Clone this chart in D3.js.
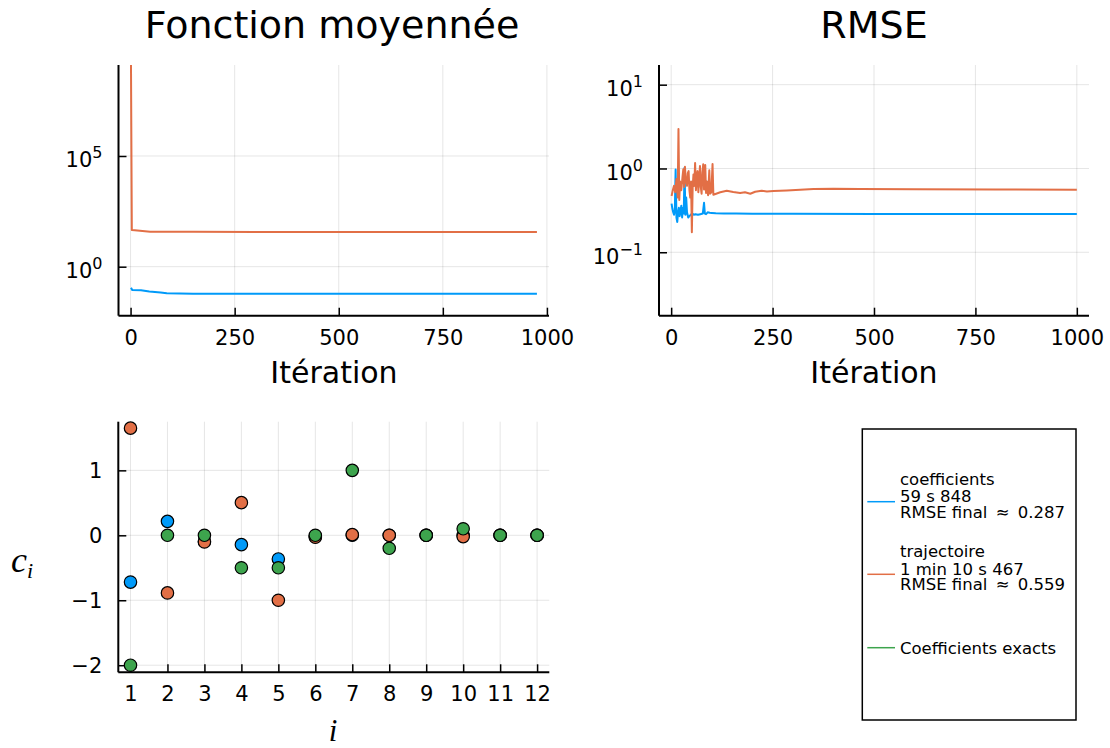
<!DOCTYPE html>
<html>
<head>
<meta charset="utf-8">
<script src="https://cdn.jsdelivr.net/npm/d3@7"></script>
<style>
  body { margin: 0; background: #fff; }
  svg { display: block; font-family: "DejaVu Sans", sans-serif; }
</style>
</head>
<body>
<svg id="fig" width="1110" height="748"></svg>
<script>
// ---- Fonction moyennée (log scale), per iteration ----
const meanIterCoef = [1, 4, 25, 45, 72, 87, 150, 400, 700, 976];
const meanValCoef  = [0.112, 0.088, 0.086, 0.076, 0.068, 0.063, 0.060, 0.060, 0.060, 0.060];
const meanIterTraj = [1, 3, 10, 47, 150, 400, 700, 976];
const meanValTraj  = [1.3e9, 45.5, 44, 38, 37.5, 37.2, 37.0, 37.0];

// ---- RMSE (log scale), per iteration ----
const rmseIterCoef = [1, 3, 5, 7, 9, 11, 13, 15, 17, 19, 21, 23, 25, 27, 29, 31, 33, 35, 37, 39,
                      42, 45, 48, 52, 56, 60, 66, 72, 78, 81, 83, 86, 90, 95, 100, 110, 130, 160,
                      200, 300, 500, 700, 1000];
const rmseValCoef  = [0.38, 0.33, 0.30, 0.28, 0.31, 0.97, 0.26, 0.23, 0.30, 0.34, 0.27, 0.31, 0.36,
                      0.26, 0.34, 0.29, 1.02, 0.28, 0.45, 0.30, 0.26, 0.27, 0.28, 0.29, 0.28, 0.285,
                      0.28, 0.285, 0.29, 0.39, 0.29, 0.285, 0.30, 0.296, 0.295, 0.293, 0.291, 0.29,
                      0.289, 0.288, 0.287, 0.287, 0.287];
const rmseIterTraj = [1, 4, 7, 10, 13, 16, 18, 20, 22, 25, 28, 30, 32, 34, 36, 39, 41, 43, 45, 47,
                      49, 51, 53, 55, 57, 59, 61, 63, 65, 67, 69, 71, 73, 75, 77, 79, 81, 83, 84,
                      86, 88, 91, 94, 96, 99, 102, 104, 121, 137, 153, 170, 182, 195, 207, 223,
                      236, 252, 285, 318, 351, 400, 466, 600, 800, 1000];
const rmseValTraj  = [0.47, 0.55, 0.62, 0.52, 0.75, 0.45, 2.96, 0.42, 0.70, 0.55, 0.80, 0.98, 0.60,
                      1.05, 0.72, 0.62, 0.88, 0.93, 0.55, 0.45, 0.70, 0.173, 0.60, 0.85, 0.62, 1.16,
                      0.55, 0.80, 0.93, 0.52, 0.75, 1.07, 0.60, 0.50, 0.90, 1.12, 0.56, 0.80, 1.10,
                      0.51, 0.70, 0.48, 0.95, 0.50, 0.52, 1.13, 0.486, 0.52, 0.543, 0.524, 0.509,
                      0.52, 0.50, 0.528, 0.543, 0.532, 0.538, 0.547, 0.557, 0.568, 0.573, 0.568,
                      0.564, 0.561, 0.559];

// ---- Coefficients c_i ----
const coefIndex = [1, 2, 3, 4, 5, 6, 7, 8, 9, 10, 11, 12];
const coefCoef  = [-0.72, 0.215, -0.09, -0.144, -0.364, -0.02, 0.0, 0.0, 0.0, 0.0, 0.0, 0.0];
const coefTraj  = [1.65, -0.887, -0.103, 0.503, -1.0, -0.03, 0.01, 0.0, 0.0, -0.02, 0.0, 0.0];
const coefExact = [-2, 0, 0, -0.5, -0.5, 0, 1, -0.2, 0, 0.1, 0, 0];

// ---- ticks and labels ----
const iterTicks = [0, 250, 500, 750, 1000];
const meanTicks = [1, 1e5];
const rmseTicks = [0.1, 1, 10];
const coefYTicks = [-2, -1, 0, 1];
const titles = ["Fonction moyennée", "RMSE"];
const xLabel = "Itération";
const legendEntries = [
  { lines: ["coefficients", "59 s 848", "RMSE final\u2002\u2248\u20020.287"], color: "#009af9" },
  { lines: ["trajectoire", "1 min 10 s 467", "RMSE final\u2002\u2248\u20020.559"], color: "#e26f46" },
  { lines: ["Coefficients exacts"], color: "#3da44d" }
];

const BLUE = "#009af9", ORANGE = "#e26f46", GREEN = "#3da44d";
const SERIF = "'Liberation Serif', 'DejaVu Serif', serif";
const svg = d3.select("#fig");

let clipId = 0;
function frame(xs, ys, xt, yt, logY) {
  const g = svg.append("g");
  const [x0, x1] = xs.range();
  const [yb, yt0] = ys.range();
  // grid
  g.append("g").selectAll("line").data(xt).join("line")
    .attr("x1", d => xs(d)).attr("x2", d => xs(d)).attr("y1", yt0).attr("y2", yb)
    .attr("stroke", "#000").attr("stroke-opacity", 0.1).attr("stroke-width", 1);
  g.append("g").selectAll("line").data(yt).join("line")
    .attr("y1", d => ys(d)).attr("y2", d => ys(d)).attr("x1", x0).attr("x2", x1)
    .attr("stroke", "#000").attr("stroke-opacity", 0.1).attr("stroke-width", 1);

  const id = "clip" + (clipId++);
  svg.append("clipPath").attr("id", id).append("rect")
    .attr("x", x0).attr("y", yt0).attr("width", x1 - x0).attr("height", yb - yt0);
  const marks = svg.append("g").attr("clip-path", `url(#${id})`);

  const axes = () => {
    const ax = svg.append("g").attr("transform", `translate(0,${yb})`)
      .call(d3.axisBottom(xs).tickValues(xt).tickFormat(d3.format("d"))
        .tickSize(-8).tickSizeOuter(0).tickPadding(14));
    const ay = svg.append("g").attr("transform", `translate(${x0},0)`)
      .call(d3.axisLeft(ys).tickValues(yt).tickSize(-8).tickSizeOuter(0).tickPadding(16));
    [ax, ay].forEach(a => {
      a.attr("font-family", null).attr("font-size", null);
      a.select(".domain").attr("stroke", "#000").attr("stroke-width", 2);
      a.selectAll(".tick line").attr("stroke", "#000").attr("stroke-width", 1.5);
      a.selectAll(".tick text").attr("fill", "#000").attr("font-size", 21);
    });
    ax.select(".domain").attr("d", `M${x0},0H${x1}`);
    ay.select(".domain").attr("d", `M0,${yb}V${yt0}`);
    if (logY) {
      ay.selectAll(".tick text").each(function (d) {
        const t = d3.select(this);
        const e = Math.round(Math.log10(d));
        t.text("10").attr("dy", 11);
        t.append("tspan").attr("dy", -9).attr("font-size", 16)
          .text(e < 0 ? "\u2212" + (-e) : String(e));
      });
    } else {
      ay.selectAll(".tick text").attr("dy", 7.6)
        .text(d => d < 0 ? "\u2212" + (-d) : String(d));
    }
  };
  return { marks, axes };
}

function drawLine(marks, xs, ys, xsData, ysData, color) {
  marks.append("path")
    .datum(d3.zip(xsData, ysData))
    .attr("fill", "none").attr("stroke", color).attr("stroke-width", 2)
    .attr("stroke-linejoin", "round")
    .attr("d", d3.line().x(d => xs(d[0])).y(d => ys(d[1])));
}

// ---- Panel 1: Fonction moyennée ----
{
  const xs = d3.scaleLinear().domain([-29, 1005]).range([118.5, 549]);
  const ys = d3.scaleLog().domain([Math.pow(10, -2.213), Math.pow(10, 9.11)]).range([315.7, 65]);
  const f = frame(xs, ys, iterTicks, meanTicks, true);
  drawLine(f.marks, xs, ys, meanIterCoef, meanValCoef, BLUE);
  drawLine(f.marks, xs, ys, meanIterTraj, meanValTraj, ORANGE);
  f.axes();
  svg.append("text").attr("x", 332).attr("y", 38).attr("text-anchor", "middle")
    .attr("font-size", 38).text(titles[0]);
  svg.append("text").attr("x", 334).attr("y", 383).attr("text-anchor", "middle")
    .attr("font-size", 30).text(xLabel);
}

// ---- Panel 2: RMSE ----
{
  const xs = d3.scaleLinear().domain([-30, 1030]).range([659, 1089]);
  const ys = d3.scaleLog().domain([Math.pow(10, -1.757), Math.pow(10, 1.235)]).range([315.7, 65]);
  const f = frame(xs, ys, iterTicks, rmseTicks, true);
  drawLine(f.marks, xs, ys, rmseIterCoef, rmseValCoef, BLUE);
  drawLine(f.marks, xs, ys, rmseIterTraj, rmseValTraj, ORANGE);
  f.axes();
  svg.append("text").attr("x", 874).attr("y", 38).attr("text-anchor", "middle")
    .attr("font-size", 38).text(titles[1]);
  svg.append("text").attr("x", 874).attr("y", 383).attr("text-anchor", "middle")
    .attr("font-size", 30).text(xLabel);
}

// ---- Panel 3: coefficients ----
{
  const xs = d3.scaleLinear().domain([0.67, 12.33]).range([118.3, 549.3]);
  const ys = d3.scaleLinear().domain([-2.109, 1.749]).range([672.3, 421.7]);
  const f = frame(xs, ys, coefIndex, coefYTicks, false);
  f.axes();
  const pts = svg.append("g");
  [[coefCoef, BLUE], [coefTraj, ORANGE], [coefExact, GREEN]].forEach(([vals, c]) => {
    pts.append("g").selectAll("circle").data(d3.zip(coefIndex, vals)).join("circle")
      .attr("cx", d => xs(d[0])).attr("cy", d => ys(d[1])).attr("r", 6.2)
      .attr("fill", c).attr("stroke", "#000").attr("stroke-width", 1.2);
  });
  // y label c_i
  const cl = svg.append("text").attr("x", 11).attr("y", 572)
    .style("font-family", SERIF).style("font-style", "italic")
    .attr("font-size", 36).text("c");
  cl.append("tspan").attr("dy", 6).attr("font-size", 22).text("i");
  svg.append("text").attr("x", 333).attr("y", 741).attr("text-anchor", "middle")
    .style("font-family", SERIF).style("font-style", "italic")
    .attr("font-size", 31).text("i");
}

// ---- Legend ----
{
  const lg = svg.append("g");
  lg.append("rect").attr("x", 862.3).attr("y", 429).attr("width", 213.7).attr("height", 291)
    .attr("fill", "#fff").attr("stroke", "#000").attr("stroke-width", 1.5);
  const ys = [501.7, 574.3, 647.7];
  legendEntries.forEach((e, i) => {
    const y = ys[i];
    lg.append("line").attr("x1", 867.3).attr("x2", 895).attr("y1", y).attr("y2", y)
      .attr("stroke", e.color).attr("stroke-width", 1.5);
    const offs = e.lines.length === 3 ? [-17, 0.5, 16] : [6];
    e.lines.forEach((s, k) => {
      lg.append("text").attr("x", 900).attr("y", y + offs[k]).attr("font-size", 16.5).text(s);
    });
  });
}
</script>
</body>
</html>
